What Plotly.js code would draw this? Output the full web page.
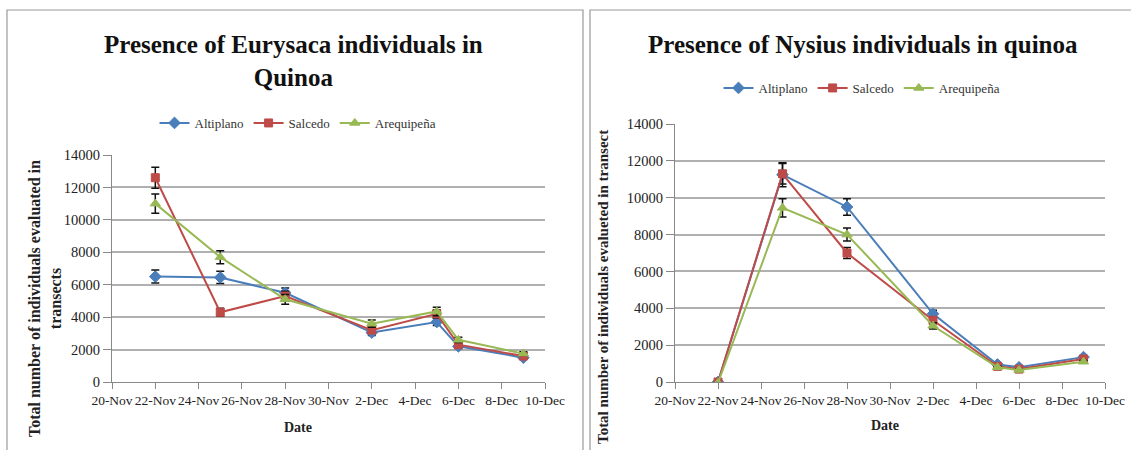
<!DOCTYPE html>
<html>
<head>
<meta charset="utf-8">
<script src="https://cdn.plot.ly/plotly-3.0.1.min.js"></script>
<style>html,body{margin:0;padding:0;background:#fff;}#chart{width:1131px;height:450px;}</style>
</head>
<body>
<div id="chart"></div>
<script>
// ---- data ----
const dates = ['2012-11-22','2012-11-25','2012-11-28','2012-12-02','2012-12-05','2012-12-06','2012-12-09'];
const seriesNames = ['Altiplano','Salcedo','Arequipeña'];

const eurAltiplano   = [6500, 6450, 5500, 3050, 3700, 2200, 1500];
const eurSalcedo     = [12600, 4300, 5300, 3200, 4200, 2300, 1600];
const eurArequipena  = [11000, 7700, 5100, 3600, 4350, 2600, 1750];
const eurAltiplanoErr  = [400, 380, 300, 180, 220, 130, 90];
const eurSalcedoErr    = [650, 250, 300, 190, 250, 140, 100];
const eurArequipenaErr = [600, 400, 300, 220, 260, 160, 110];

const nysAltiplano   = [0, 11250, 9500, 3700, 950, 800, 1350];
const nysSalcedo     = [0, 11300, 7000, 3350, 850, 700, 1250];
const nysArequipena  = [-50, 9450, 8000, 3050, 800, 650, 1100];
const nysAltiplanoErr  = [0, 650, 450, 200, 60, 50, 80];
const nysSalcedoErr    = [0, 550, 300, 180, 50, 40, 70];
const nysArequipenaErr = [0, 500, 350, 170, 50, 40, 70];

const xTickStart = '2012-11-20';
const xRange = ['2012-11-20','2012-12-10'];
const yRange = [0, 14000];

const chartTitles = ['Presence of Eurysaca individuals in<br>Quinoa', 'Presence of Nysius individuals in quinoa'];
const yTitles = ['Total number of individuals evaluated in<br>transects', 'Total number of individuals evalueted in transect'];
const xTitle = 'Date';

// ---- styles ----
const colors = ['#4A7EBB', '#BE4B48', '#98B954'];
const symbols = ['diamond', 'square', 'triangle-up'];
const FONT = 'Liberation Serif';

function mk(y, err, i, xa, ya, leg) {
  return {
    x: dates, y: y, type: 'scatter', mode: 'lines+markers',
    name: seriesNames[i], xaxis: xa, yaxis: ya, legend: leg,
    line: {color: colors[i], width: 2},
    marker: {symbol: symbols[i], size: i === 1 ? 8 : 9, color: colors[i], line: {color: colors[i], width: 1}},
    error_y: {type: 'data', array: err, visible: true, color: '#111', thickness: 1.5, width: 4}
  };
}

const traces = [
  mk(eurAltiplano, eurAltiplanoErr, 0, 'x', 'y', 'legend'),
  mk(eurSalcedo, eurSalcedoErr, 1, 'x', 'y', 'legend'),
  mk(eurArequipena, eurArequipenaErr, 2, 'x', 'y', 'legend'),
  mk(nysAltiplano, nysAltiplanoErr, 0, 'x2', 'y2', 'legend2'),
  mk(nysSalcedo, nysSalcedoErr, 1, 'x2', 'y2', 'legend2'),
  mk(nysArequipena, nysArequipenaErr, 2, 'x2', 'y2', 'legend2')
];

function xax(domain, anchor) {
  return {
    domain: domain, anchor: anchor, type: 'date', range: xRange,
    tick0: xTickStart, dtick: 2 * 86400000, tickformat: '%-d-%b', tickangle: 0,
    showgrid: false, showline: true, linecolor: '#888', linewidth: 1,
    ticks: 'outside', ticklen: 6, tickcolor: '#888',
    tickfont: {family: FONT, size: 13.5, color: '#222'},
    zeroline: false, fixedrange: true
  };
}
function yax(domain, anchor) {
  return {
    domain: domain, anchor: anchor, range: yRange, dtick: 2000, tickformat: 'd',
    showgrid: true, gridcolor: '#b0b0b0', gridwidth: 2,
    showline: true, linecolor: '#888', linewidth: 1,
    ticks: 'outside', ticklen: 8, tickcolor: '#888',
    tickfont: {family: FONT, size: 14.5, color: '#222'},
    zeroline: false, fixedrange: true
  };
}

const W = 1131, H = 450;
const px = v => v / W, py = v => (H - v) / H;

const layout = {
  width: W, height: H, autosize: false,
  margin: {l: 0, r: 0, t: 0, b: 0},
  paper_bgcolor: '#fff', plot_bgcolor: '#fff',
  font: {family: FONT, color: '#222'},
  xaxis: xax([px(112), px(545)], 'y'),
  yaxis: yax([py(382), py(155)], 'x'),
  xaxis2: xax([px(675), px(1105)], 'y2'),
  yaxis2: yax([py(382), py(124)], 'x2'),
  legend: {orientation: 'h', x: px(298), xanchor: 'center', y: py(123), yanchor: 'middle',
           font: {family: FONT, size: 13, color: '#333'}, bgcolor: 'rgba(0,0,0,0)'},
  legend2: {orientation: 'h', x: px(862), xanchor: 'center', y: py(88), yanchor: 'middle',
           font: {family: FONT, size: 13, color: '#333'}, bgcolor: 'rgba(0,0,0,0)'},
  shapes: [
    {type: 'rect', xref: 'paper', yref: 'paper', x0: px(7), x1: px(583), y0: -0.05, y1: py(10), line: {color: '#999', width: 1.2}},
    {type: 'rect', xref: 'paper', yref: 'paper', x0: px(590), x1: 1.05, y0: -0.05, y1: py(10), line: {color: '#999', width: 1.2}}
  ],
  annotations: [
    {text: '<b>' + chartTitles[0] + '</b>', xref: 'paper', yref: 'paper', x: px(293), y: py(61), xanchor: 'center', yanchor: 'middle',
     showarrow: false, font: {family: FONT, size: 25, color: '#111'}},
    {text: '<b>' + chartTitles[1] + '</b>', xref: 'paper', yref: 'paper', x: px(863), y: py(45), xanchor: 'center', yanchor: 'middle',
     showarrow: false, font: {family: FONT, size: 25, color: '#111'}},
    {text: '<b>' + xTitle + '</b>', xref: 'paper', yref: 'paper', x: px(298), y: py(427), xanchor: 'center', yanchor: 'middle',
     showarrow: false, font: {family: FONT, size: 14, color: '#222'}},
    {text: '<b>' + xTitle + '</b>', xref: 'paper', yref: 'paper', x: px(885), y: py(425), xanchor: 'center', yanchor: 'middle',
     showarrow: false, font: {family: FONT, size: 14, color: '#222'}},
    {text: '<b>' + yTitles[0] + '</b>', xref: 'paper', yref: 'paper', x: px(45), y: py(299), xanchor: 'center', yanchor: 'middle',
     textangle: -90, showarrow: false, font: {family: FONT, size: 16, color: '#222'}},
    {text: '<b>' + yTitles[1] + '</b>', xref: 'paper', yref: 'paper', x: px(603), y: py(287), xanchor: 'center', yanchor: 'middle',
     textangle: -90, showarrow: false, font: {family: FONT, size: 15, color: '#222'}}
  ]
};

Plotly.newPlot('chart', traces, layout, {staticPlot: true, displayModeBar: false});
</script>
</body>
</html>
